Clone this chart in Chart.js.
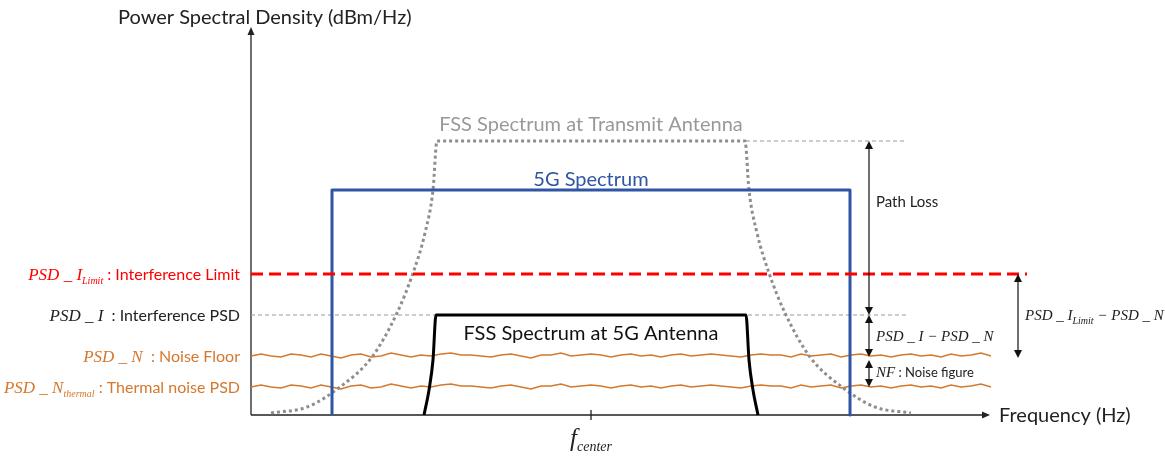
<!DOCTYPE html>
<html><head><meta charset="utf-8">
<script src="https://cdn.jsdelivr.net/npm/chart.js@4.4.1/dist/chart.umd.min.js"></script>
<style>html,body{margin:0;padding:0;background:#fff;overflow:hidden}</style>
</head><body>
<canvas id="c" width="1165" height="457"></canvas>
<script>
// Frequency axis: offset from f_center (arbitrary units). PSD axis: arbitrary level units above the axis floor.
const X_MIN = -340, X_MAX = 399, Y_MIN = 0, Y_MAX = 388;

// FSS spectrum at transmit antenna (dotted)
const txX = [-320, -284, -251, -219, -194, -178, -166, -158, -154, 154, 158, 166, 178, 194, 219, 251, 284, 320];
const txY = [2, 8, 28, 58, 102, 142, 182, 225, 274, 274, 225, 182, 142, 102, 58, 28, 8, 2];
// 5G spectrum (blue rectangle)
const g5X = [-259, -259, 259, 259];
const g5Y = [0, 225, 225, 0];
// FSS spectrum at 5G antenna (black)
const rxX = [-167, -162, -158, -155, 155, 158, 162, 167];
const rxY = [0, 25, 55, 100, 100, 55, 25, 0];
// Reference levels
const limitX = [-340, 436], limitLevel = 141;          // PSD_I_Limit
const psdIX = [-340, 316], psdILevel = 100;            // PSD_I
const txRefX = [155, 316], txRefLevel = 274;           // transmit peak reference
const noiseFloorLevel = 59, thermalLevel = 28;
// Noise trace (hand-read wiggle)
const noiseX = [-340,-330,-320,-310,-300,-290,-280,-270,-260,-250,
  -240,-230,-220,-210,-200,-190,-180,-170,-160,-150,
  -140,-130,-120,-110,-100,-90,-80,-70,-60,-50,
  -40,-30,-20,-10,0,10,20,30,40,50,
  60,70,80,90,100,110,120,130,140,150,
  160,170,180,190,200,210,220,230,240,250,
  260,270,280,290,300,310,320,330,340,350,
  360,370,380,390,400,410,420,430,436];
const noiseOff = [0,2,0,-1,2,1,-1,2,0,-2,
  1,2,-1,0,3,1,-1,1,0,2,
  3,1,1,0,-1,1,2,0,-2,1,
  1,3,0,1,2,1,-1,1,2,0,
  1,-1,1,2,0,1,2,1,0,-1,
  1,2,1,1,-1,2,0,1,2,-1,
  1,2,0,1,-1,1,2,0,1,-1,
  2,0,1,3,0,1,-1,2,1];
// Dimension arrows [x, yFrom, yTo]
const dimArrows = [[278, 274, 100], [278, 100, 58], [278, 55, 28], [427, 141, 57]];
const fCenter = 0;

const SANS = 'Lato, "Open Sans", sans-serif';
const SERIF = '"Liberation Serif", "DejaVu Serif", serif';
const RED = '#ff0000', ORANGE = '#d4782e', BLUE = '#2f55a4', GRAY = '#8e8e8e';

function pts(xs, ys) { return xs.map((x, i) => ({ x, y: Array.isArray(ys) ? ys[i] : ys })); }

function rich(ctx, segs, x, y, align) {
  let w = 0;
  segs.forEach(s => { ctx.font = s.f; w += ctx.measureText(s.t).width; });
  let cx = align === 'right' ? x - w : align === 'center' ? x - w / 2 : x;
  ctx.textBaseline = 'alphabetic'; ctx.textAlign = 'left';
  segs.forEach(s => { ctx.font = s.f; ctx.fillStyle = s.c; ctx.fillText(s.t, cx, y + (s.dy || 0)); cx += ctx.measureText(s.t).width; });
}
const mi = (t, c, sz) => ({ t, f: `italic ${sz || 17}px ${SERIF}`, c });
const sub = (t, c) => ({ t, f: `italic 10px ${SERIF}`, c, dy: 4 });
const tx = (t, c, sz) => ({ t, f: `${sz || 15}px ${SANS}`, c });

function arrowHead(ctx, x, y, dir, len, half) {
  ctx.beginPath();
  if (dir === 'up') { ctx.moveTo(x, y); ctx.lineTo(x - half, y + len); ctx.lineTo(x + half, y + len); }
  else if (dir === 'down') { ctx.moveTo(x, y); ctx.lineTo(x - half, y - len); ctx.lineTo(x + half, y - len); }
  else { ctx.moveTo(x, y); ctx.lineTo(x - len, y - half); ctx.lineTo(x - len, y + half); }
  ctx.closePath(); ctx.fill();
}

const diagram = {
  id: 'diagram',
  beforeDatasetsDraw(chart) {
    const { ctx, chartArea: a, scales: { x, y } } = chart;
    ctx.save();
    ctx.strokeStyle = '#222'; ctx.fillStyle = '#222'; ctx.lineWidth = 1.3;
    const y0 = y.getPixelForValue(0), x0 = a.left;
    ctx.beginPath(); ctx.moveTo(x0, y0); ctx.lineTo(x0, a.top + 6); ctx.moveTo(x0, y0); ctx.lineTo(a.right - 6, y0); ctx.stroke();
    arrowHead(ctx, x0, a.top, 'up', 8, 3.5);
    arrowHead(ctx, a.right, y0, 'right', 8, 3.5);
    const fc = x.getPixelForValue(fCenter);
    ctx.beginPath(); ctx.moveTo(fc, y0 - 5); ctx.lineTo(fc, y0 + 5); ctx.stroke();
    ctx.restore();
  },
  afterDatasetsDraw(chart) {
    const { ctx, chartArea: a, scales: { x, y } } = chart;
    ctx.save();
    // axis titles
    rich(ctx, [tx('Power Spectral Density (dBm/Hz)', '#222', 20)], 118, 24, 'left');
    rich(ctx, [tx('Frequency (Hz)', '#222', 20)], a.right + 9, y.getPixelForValue(0) + 7, 'left');
    const fc = x.getPixelForValue(fCenter);
    rich(ctx, [mi('f', '#222', 25), { t: 'center', f: `italic 14px ${SERIF}`, c: '#222', dy: 5 }], fc, y.getPixelForValue(0) + 31, 'center');
    // curve labels
    rich(ctx, [tx('FSS Spectrum at Transmit Antenna', '#999', 20)], fc, y.getPixelForValue(txRefLevel) - 10, 'center');
    rich(ctx, [tx('5G Spectrum', BLUE, 20)], fc, y.getPixelForValue(g5Y[1]) - 4, 'center');
    rich(ctx, [tx('FSS Spectrum at 5G Antenna', '#111', 20)], fc, y.getPixelForValue(psdILevel) + 25, 'center');
    // level labels on the left
    const lx = x.getPixelForValue(X_MIN) - 11;
    rich(ctx, [mi('PSD _ I', RED), sub('Limit', RED), tx(' : Interference Limit', RED, 16)], lx, y.getPixelForValue(limitLevel) + 6, 'right');
    rich(ctx, [mi('PSD _ I', '#222'), tx('  : Interference PSD', '#222', 16)], lx, y.getPixelForValue(psdILevel) + 6, 'right');
    rich(ctx, [mi('PSD _ N', ORANGE), tx('  : Noise Floor', ORANGE, 16)], lx, y.getPixelForValue(noiseFloorLevel) + 6, 'right');
    rich(ctx, [mi('PSD _ N', ORANGE), sub('thermal', ORANGE), tx(' : Thermal noise PSD', ORANGE, 16)], lx, y.getPixelForValue(thermalLevel) + 6, 'right');
    // dimension arrows
    ctx.strokeStyle = '#111'; ctx.fillStyle = '#111'; ctx.lineWidth = 1.2;
    dimArrows.forEach(([ax, y1, y2]) => {
      const px = x.getPixelForValue(ax), p1 = y.getPixelForValue(y1), p2 = y.getPixelForValue(y2);
      ctx.beginPath(); ctx.moveTo(px, p1 + 6); ctx.lineTo(px, p2 - 6); ctx.stroke();
      arrowHead(ctx, px, p1, 'up', 8, 4);
      arrowHead(ctx, px, p2, 'down', 8, 4);
    });
    const rx = x.getPixelForValue(285);
    rich(ctx, [tx('Path Loss', '#222', 15)], rx, y.getPixelForValue(213) + 5, 'left');
    rich(ctx, [mi('PSD _ I − PSD _ N', '#222', 15)], rx, y.getPixelForValue(79) + 5, 'left');
    rich(ctx, [mi('NF', '#222', 15), tx(' : Noise figure', '#222', 13)], rx, y.getPixelForValue(43) + 5, 'left');
    rich(ctx, [mi('PSD _ I', '#222', 15), sub('Limit', '#222'), mi(' − PSD _ N', '#222', 15)], x.getPixelForValue(434), y.getPixelForValue(100) + 5, 'left');
    ctx.restore();
  }
};

const line = (data, o) => Object.assign({ data, pointRadius: 0, fill: false, borderWidth: 1, tension: 0 }, o);

new Chart(document.getElementById('c'), {
  type: 'line',
  data: {
    datasets: [
      line(pts(rxX, rxY), { borderColor: '#000', borderWidth: 3, cubicInterpolationMode: 'monotone' }),
      line(pts(limitX, limitLevel), { borderColor: RED, borderWidth: 3, borderDash: [12, 6] }),
      line(pts(g5X, g5Y), { borderColor: BLUE, borderWidth: 3, borderJoinStyle: 'round' }),
      line(pts(txX, txY), { borderColor: GRAY, borderWidth: 3, borderDash: [3, 3], cubicInterpolationMode: 'monotone' }),
      line(pts(noiseX, noiseOff.map(v => v + noiseFloorLevel)), { borderColor: ORANGE, borderWidth: 1.4 }),
      line(pts(noiseX, noiseOff.map(v => v + thermalLevel)), { borderColor: ORANGE, borderWidth: 1.4 }),
      line(pts(psdIX, psdILevel), { borderColor: '#999', borderDash: [4, 3] }),
      line(pts(txRefX, txRefLevel), { borderColor: '#999', borderDash: [4, 3] })
    ]
  },
  options: {
    responsive: false, animation: false, devicePixelRatio: 1,
    layout: { padding: { left: 251, right: 175, top: 27, bottom: 42 } },
    plugins: { legend: { display: false }, tooltip: { enabled: false } },
    scales: {
      x: { type: 'linear', min: X_MIN, max: X_MAX, display: false },
      y: { type: 'linear', min: Y_MIN, max: Y_MAX, display: false }
    },
    elements: { line: { borderCapStyle: 'butt' } },
    clip: false
  },
  plugins: [diagram]
});
</script>
</body></html>
